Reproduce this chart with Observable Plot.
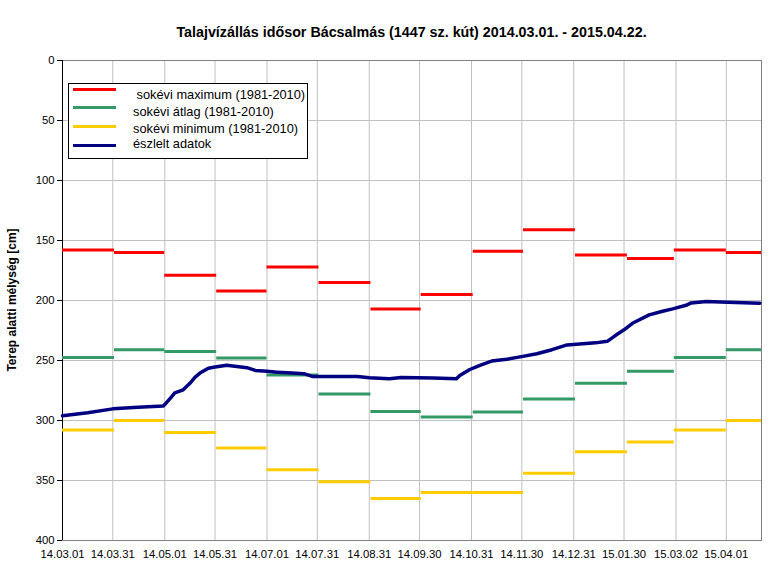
<!DOCTYPE html>
<html><head><meta charset="utf-8">
<script src="https://cdn.jsdelivr.net/npm/d3@7"></script>
<script src="https://cdn.jsdelivr.net/npm/@observablehq/plot@0.6"></script>
<style>
body{margin:0;background:#fff;font-family:"Liberation Sans",Arial,sans-serif;}
#wrap{position:relative;width:784px;height:573px;}
#title{height:45px;box-sizing:border-box;padding:24px 23px 0 62px;text-align:center;font-weight:bold;font-size:14.3px;color:#000;}
#ylab{position:absolute;left:12px;top:300px;transform:translate(-50%,-50%) rotate(-90deg);font-weight:bold;font-size:12px;white-space:nowrap;}
#legend{position:absolute;left:68px;top:83px;width:238px;height:74px;border:1px solid #000;background:#fff;font-size:12.8px;}
#legend .ln{position:absolute;left:4px;width:43px;height:3px;}
#legend .tx{position:absolute;white-space:pre;}
</style></head>
<body><div id="wrap">
<div id="title">Talajvízállás idősor Bácsalmás (1447 sz. kút) 2014.03.01. - 2015.04.22.</div>
<div id="ylab">Terep alatti mélység [cm]</div>
<div id="chart"></div>
<div id="legend"></div>
</div>
<script>
const monthStarts = ["2014-03-01","2014-04-01","2014-05-01","2014-06-01","2014-07-01","2014-08-01","2014-09-01","2014-10-01","2014-11-01","2014-12-01","2015-01-01","2015-02-01","2015-03-01","2015-04-01"];
const monthEnds = ["2014-04-01","2014-05-01","2014-06-01","2014-07-01","2014-08-01","2014-09-01","2014-10-01","2014-11-01","2014-12-01","2015-01-01","2015-02-01","2015-03-01","2015-04-01","2015-04-22"];
const maxValues = [158,160,179,192,172,185,207,195,159,141,162,165,158,160];
const avgValues = [247.5,241,242.5,248,262,278,292.5,297,293,282,269,259,247.5,241];
const minValues = [308,300,310,323,341,351,365,360,360,344,326,318,308,300];
const obsDates = ["2014-03-01","2014-03-16","2014-03-31","2014-04-15","2014-04-30","2014-05-01","2014-05-04","2014-05-07","2014-05-12","2014-05-16","2014-05-19","2014-05-22","2014-05-27","2014-05-31","2014-06-07","2014-06-13","2014-06-19","2014-06-24","2014-07-01","2014-07-07","2014-07-16","2014-07-23","2014-07-28","2014-08-24","2014-08-31","2014-09-12","2014-09-19","2014-10-08","2014-10-22","2014-10-24","2014-10-30","2014-11-05","2014-11-12","2014-11-21","2014-11-29","2014-12-09","2014-12-18","2014-12-27","2015-01-13","2015-01-20","2015-01-25","2015-01-30","2015-02-04","2015-02-14","2015-02-22","2015-02-28","2015-03-08","2015-03-11","2015-03-20","2015-04-02","2015-04-21"];
const obsValues = [296,293.6,290.3,289,288,286.7,282,277,274.4,269,264,260.5,256.4,255.5,254,255,256,258.3,259,259.7,260.5,261,263.3,263.3,264.4,265.3,264.2,264.5,265.3,262.5,257.5,254,250.5,249,247,244.4,241,237,235.3,234,229,224.4,219,212,209,207,204,202,200.8,201.4,202.2];
const xTicks = ["2014-03-01","2014-03-31","2014-05-01","2014-05-31","2014-07-01","2014-07-31","2014-08-31","2014-09-30","2014-10-31","2014-11-30","2014-12-31","2015-01-30","2015-03-02","2015-04-01"];
const yTicks = [0,50,100,150,200,250,300,350,400];
const xDomain = ["2014-03-01","2015-04-22"];

const series = [
  {name:" sokévi maximum (1981-2010)", color:"#ff0000", values:maxValues},
  {name:"sokévi átlag (1981-2010)", color:"#339966", values:avgValues},
  {name:"sokévi minimum (1981-2010)", color:"#ffcc00", values:minValues}
];
const obsName = "észlelt adatok", obsColor = "#000080";

const P = d => new Date(d + "T00:00:00Z");
const segs = series.flatMap(s => s.values.map((v,i)=>({start:P(monthStarts[i]), end:P(monthEnds[i]), v, color:s.color})));
const obs = obsDates.map((d,i)=>({date:P(d), v:obsValues[i]}));
const ticks = xTicks.map(P);
const fmt = d3.utcFormat("%y.%m.%d");

const chart = Plot.plot({
  width:784, height:528,
  marginTop:15, marginBottom:33, marginLeft:62, marginRight:23,
  style:{fontFamily:"'Liberation Sans',Arial,sans-serif", fontSize:"11px", color:"#000", background:"#fff"},
  x:{type:"utc", domain:xDomain.map(P)},
  y:{domain:[0,400], reverse:true},
  marks:[
    Plot.gridX(ticks, {stroke:"#c0c0c0", strokeOpacity:1}),
    Plot.gridY(yTicks, {stroke:"#c0c0c0", strokeOpacity:1}),
    Plot.frame({stroke:"#808080"}),
    Plot.ruleX([P(xDomain[0])], {stroke:"#000"}),
    Plot.axisX(ticks, {tickSize:0, tickPadding:9, tickFormat:fmt, label:null, fontSize:11.3}),
    Plot.axisY(yTicks, {tickSize:5, tickPadding:3, label:null, fontSize:11.3, stroke:"#000"}),
    Plot.ruleY(segs, {y:"v", x1:"start", x2:"end", stroke:"color", strokeWidth:3}),
    Plot.line(obs, {x:"date", y:"v", stroke:obsColor, strokeWidth:3.5})
  ]
});
document.getElementById("chart").appendChild(chart);

const lg = document.getElementById("legend");
const rows = [...series.map(s=>({name:s.name,color:s.color})), {name:obsName, color:obsColor}];
const lineTops = [4,22,41,60];
const textTops = [3,20,37,52];
rows.forEach((r,i)=>{
  const ln = document.createElement("div"); ln.className="ln"; ln.style.top=lineTops[i]+"px"; ln.style.background=r.color; lg.appendChild(ln);
  const tx = document.createElement("div"); tx.className="tx"; tx.style.top=textTops[i]+"px"; tx.style.left="64px"; tx.textContent=r.name; lg.appendChild(tx);
});
</script>
</body></html>
